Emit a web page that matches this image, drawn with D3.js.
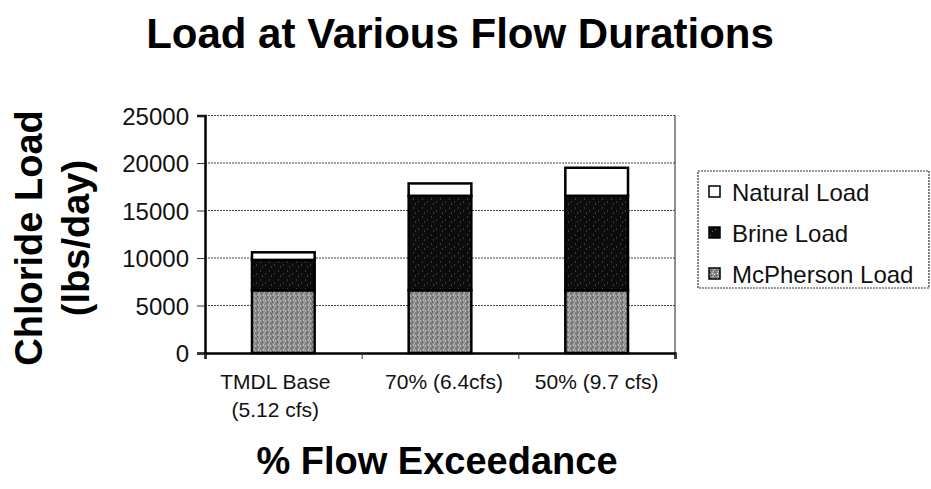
<!DOCTYPE html>
<head>
  <meta charset="utf-8">
  <script src="https://d3js.org/d3.v7.min.js"></script>
  <style>
    body { margin: 0; background: #fff; }
    svg { display: block; background-color: #fff; font-family: Arial, "Liberation Sans", sans-serif; }
    .grid line { stroke: #444; stroke-width: 1; stroke-dasharray: 2 1; }
    .tick text { fill: #111; }
  </style>
</head>
<body>
  <svg id="chart" width="931" height="489"></svg>
  <script>
    // data
    var categories = ["TMDL Base|(5.12 cfs)", "70% (6.4cfs)", "50% (9.7 cfs)"];
    var mcphersonLoad = [6600, 6600, 6600];
    var brineLoad = [3200, 9950, 9950];
    var naturalLoad = [800, 1300, 2950];
    var yTicks = [0, 5000, 10000, 15000, 20000, 25000];
    var seriesNames = ["McPherson Load", "Brine Load", "Natural Load"];

    var svg = d3.select("#chart");
    var margin = { left: 205, right: 256, top: 115.5, bottom: 136 };
    var width = 931 - margin.left - margin.right,
      height = 489 - margin.top - margin.bottom;

    // textures to mimic the scanned fills
    var defs = svg.append("defs");
    var pg = defs.append("pattern").attr("id", "pGray")
      .attr("width", 5).attr("height", 5).attr("patternUnits", "userSpaceOnUse");
    pg.append("rect").attr("width", 5).attr("height", 5).attr("fill", "#8e8e8e");
    [[0, 0, "#dcdcdc"], [2, 1, "#3a3a3a"], [4, 2, "#cccccc"], [1, 3, "#505050"], [3, 4, "#e4e4e4"], [0, 2, "#606060"]]
      .forEach(function (p) {
        pg.append("rect").attr("x", p[0]).attr("y", p[1]).attr("width", 1).attr("height", 1).attr("fill", p[2]);
      });
    var pb = defs.append("pattern").attr("id", "pBlack")
      .attr("width", 9).attr("height", 9).attr("patternUnits", "userSpaceOnUse");
    pb.append("rect").attr("width", 9).attr("height", 9).attr("fill", "#0c0c0c");
    [[1, 2], [6, 5], [3, 7]].forEach(function (p) {
      pb.append("rect").attr("x", p[0]).attr("y", p[1]).attr("width", 1).attr("height", 1).attr("fill", "#6a6a6a");
    });

    var fills = { "McPherson Load": "url(#pGray)", "Brine Load": "url(#pBlack)", "Natural Load": "#ffffff" };

    var table = categories.map(function (c, i) {
      return { cat: c, "McPherson Load": mcphersonLoad[i], "Brine Load": brineLoad[i], "Natural Load": naturalLoad[i] };
    });
    var stacked = d3.stack().keys(seriesNames)(table);

    var x = d3.scaleBand().domain(categories).range([0, width]).paddingInner(0.6).paddingOuter(0.3);
    var xEdge = d3.scaleLinear().domain([0, categories.length]).range([0, width]);
    var y = d3.scaleLinear().domain([0, 25000]).range([height, 0]);

    var g = svg.append("g").attr("transform", "translate(" + margin.left + "," + margin.top + ")");

    // gridlines
    g.append("g").attr("class", "grid")
      .selectAll("line").data(yTicks.filter(function (d) { return d > 0; }))
      .enter().append("line")
      .attr("x1", 0).attr("x2", width)
      .attr("y1", function (d) { return y(d); }).attr("y2", function (d) { return y(d); });
    g.append("line").attr("x1", width).attr("x2", width).attr("y1", 0).attr("y2", height)
      .attr("stroke", "#444").attr("stroke-width", 1.2);

    // bars
    g.selectAll(".series").data(stacked).enter().append("g")
      .attr("class", "series")
      .selectAll("rect").data(function (s) { return s.map(function (d) { d.key = s.key; return d; }); })
      .enter().append("rect")
      .attr("x", function (d) { return x(d.data.cat); })
      .attr("width", x.bandwidth())
      .attr("y", function (d) { return y(d[1]); })
      .attr("height", function (d) { return y(d[0]) - y(d[1]); })
      .attr("fill", function (d) { return fills[d.key]; })
      .attr("stroke", "#000").attr("stroke-width", 2.5);

    // y axis
    var yAxis = g.append("g")
      .call(d3.axisLeft(y).tickValues(yTicks).tickSize(8).tickPadding(8).tickFormat(d3.format("d")));
    yAxis.select(".domain").attr("stroke", "#000").attr("stroke-width", 2.5);
    yAxis.selectAll(".tick line").attr("stroke", "#333");
    yAxis.selectAll("text").style("font-size", "24px").attr("dy", "0.36em");

    // x axis with ticks at category edges
    var xAxis = g.append("g").attr("transform", "translate(0," + height + ")")
      .call(d3.axisBottom(xEdge).tickValues([0, 1, 2, 3]).tickSize(6).tickFormat(""));
    xAxis.select(".domain").attr("stroke", "#000").attr("stroke-width", 2.5);
    xAxis.selectAll(".tick line").attr("stroke", "#333");

    var labels = g.append("g").selectAll("text").data(categories).enter().append("text")
      .attr("text-anchor", "middle")
      .attr("x", function (d, i) { return x(d) + x.bandwidth() / 2 + [-8, 4, 0][i]; })
      .attr("y", height + 36)
      .style("font-size", "21px").attr("fill", "#111");
    labels.selectAll("tspan").data(function (d) { return d.split("|"); }).enter().append("tspan")
      .attr("x", function () { var p = d3.select(this.parentNode); return p.attr("x"); })
      .attr("dy", function (d, i) { return i ? 28 : 0; })
      .text(function (d) { return d; });

    // titles
    svg.append("text").attr("x", 460).attr("y", 48).attr("text-anchor", "middle")
      .style("font-size", "42px").style("font-weight", "bold").text("Load at Various Flow Durations");
    svg.append("text").attr("x", 437).attr("y", 474).attr("text-anchor", "middle")
      .style("font-size", "38px").style("font-weight", "bold").text("% Flow Exceedance");
    var yt = svg.append("text").attr("transform", "translate(42,238) rotate(-90)")
      .attr("text-anchor", "middle").style("font-size", "38px").style("font-weight", "bold");
    yt.append("tspan").attr("x", 0).attr("y", 0).text("Chloride Load");
    yt.append("tspan").attr("x", 0).attr("y", 47).text("(lbs/day)");

    // legend
    var lg = svg.append("g").attr("transform", "translate(698,171)");
    lg.append("rect").attr("width", 231).attr("height", 117)
      .attr("fill", "none").attr("stroke", "#333").attr("stroke-width", 1.2).attr("stroke-dasharray", "2 1");
    var items = lg.selectAll(".item").data(seriesNames.slice().reverse()).enter().append("g")
      .attr("transform", function (d, i) { return "translate(11," + (21 + i * 41) + ")"; });
    items.append("rect").attr("x", 0).attr("y", -6).attr("width", 11).attr("height", 11)
      .attr("fill", function (d) { return fills[d]; }).attr("stroke", "#000").attr("stroke-width", 1.5);
    items.append("text").attr("x", 23).attr("dy", "0.36em")
      .style("font-size", "24px").attr("fill", "#111").text(function (d) { return d; });
  </script>
</body>
</html>
